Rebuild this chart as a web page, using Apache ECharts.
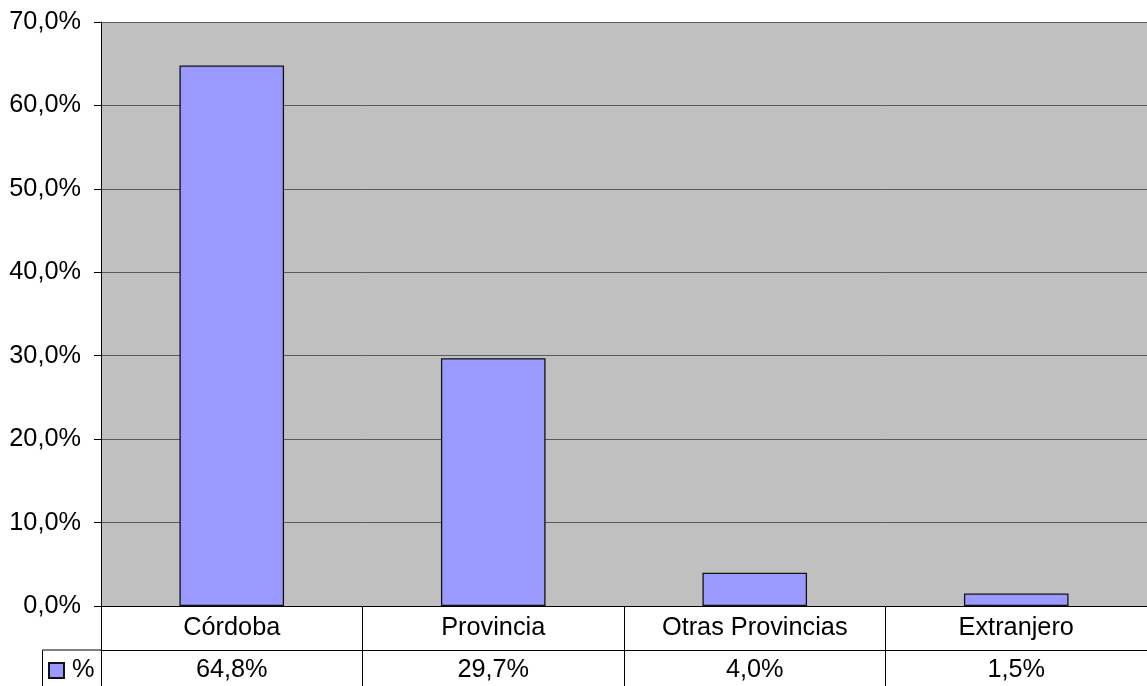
<!DOCTYPE html>
<html>
<head>
<meta charset="utf-8">
<script src="https://cdn.jsdelivr.net/npm/echarts@6/dist/echarts.min.js"></script>
<style>
  html, body { margin: 0; padding: 0; background: #fff; }
  #chart { width: 1147px; height: 686px; }
</style>
</head>
<body>
<div id="chart"></div>
<script>
const categories = ['Córdoba', 'Provincia', 'Otras Provincias', 'Extranjero']
const seriesName = '%'
const values = [64.8, 29.7, 4.0, 1.5]

const fmt = (v, d) => v.toFixed(d).replace('.', ',') + '%'
const font = 'Liberation Sans, Arial, sans-serif'
const fs = 25.3

const chart = echarts.init(document.getElementById('chart'))

const option = {
  animation: false,
  backgroundColor: '#fff',
  textStyle: { fontFamily: font },
  grid: {
    left: 101,
    right: 0,
    top: 22,
    bottom: 80,
    show: true,
    backgroundColor: '#C0C0C0',
    borderWidth: 0
  },
  legend: {
    data: [seriesName],
    left: 48,
    top: 658,
    padding: 0,
    icon: 'rect',
    itemWidth: 15,
    itemHeight: 15,
    itemGap: 0,
    textStyle: { fontSize: fs, color: '#000', fontFamily: font, padding: [0, 0, 0, 3] }
  },
  xAxis: [
    {
      type: 'category',
      data: categories,
      position: 'bottom',
      boundaryGap: true,
      axisLine: { show: true, lineStyle: { color: '#000', width: 1 } },
      axisTick: { show: true, interval: 0, length: 80, lineStyle: { color: '#000', width: 1 } },
      axisLabel: { interval: 0, fontSize: fs, color: '#000', margin: 10, fontFamily: font }
    },
    {
      type: 'category',
      data: values.map(v => fmt(v, 1)),
      position: 'bottom',
      offset: 44,
      boundaryGap: true,
      axisLine: { show: true, lineStyle: { color: '#000', width: 1 } },
      axisTick: { show: false },
      axisLabel: { interval: 0, fontSize: fs, color: '#000', margin: 8, fontFamily: font }
    }
  ],
  yAxis: {
    type: 'value',
    min: 0,
    max: 70,
    interval: 10,
    axisLine: { show: true, lineStyle: { color: '#000', width: 1 } },
    axisTick: { show: true, length: 7, lineStyle: { color: '#000' } },
    axisLabel: {
      fontSize: fs,
      color: '#000',
      margin: 20,
      fontFamily: font,
      formatter: v => fmt(v, 1)
    },
    splitLine: { show: true, lineStyle: { color: '#5a5a5a', width: 1 } }
  },
  series: [
    {
      name: seriesName,
      type: 'bar',
      xAxisIndex: 0,
      data: values,
      barWidth: '40%',
      itemStyle: { color: '#9999FF', borderColor: '#111', borderWidth: 1.3 }
    }
  ],
  graphic: [
    {
      type: 'polyline',
      shape: { points: [[101, 650], [42.5, 650], [42.5, 686]] },
      style: { stroke: '#000', lineWidth: 1, fill: null }
    }
  ]
}

chart.setOption(option)
</script>
</body>
</html>
